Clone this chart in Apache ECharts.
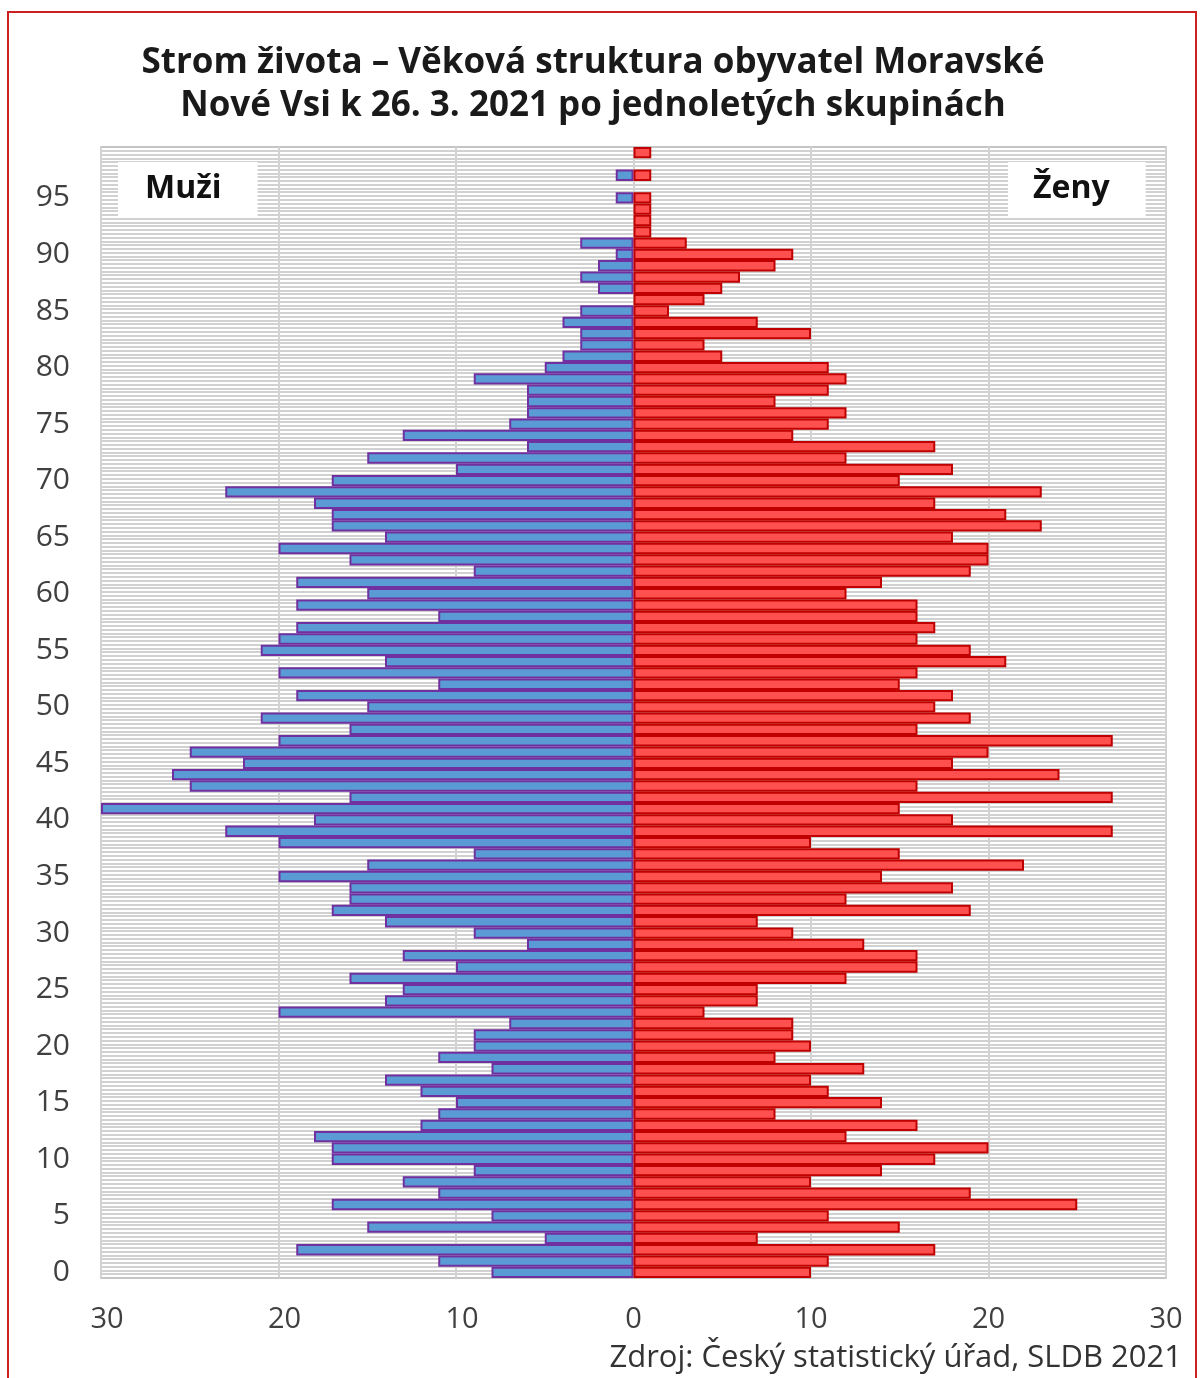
<!DOCTYPE html>
<html>
<head>
<meta charset="utf-8">
<title>Strom života</title>
<script src="https://cdn.jsdelivr.net/npm/echarts@6/dist/echarts.min.js"></script>
<style>
  html, body { margin: 0; padding: 0; background: #fff; }
  #main { width: 1204px; height: 1378px; }
</style>
</head>
<body>
<div id="main"></div>
<script>
// vek 0..99 (po jednoletych skupinach)
const ages = Array.from({ length: 100 }, (_, i) => String(i));

// pocty muzu podle veku 0..99
const muzi = [
  8, 11, 19, 5, 15, 8, 17, 11, 13, 9,
  17, 17, 18, 12, 11, 10, 12, 14, 8, 11,
  9, 9, 7, 20, 14, 13, 16, 10, 13, 6,
  9, 14, 17, 16, 16, 20, 15, 9, 20, 23,
  18, 30, 16, 25, 26, 22, 25, 20, 16, 21,
  15, 19, 11, 20, 14, 21, 20, 19, 11, 19,
  15, 19, 9, 16, 20, 14, 17, 17, 18, 23,
  17, 10, 15, 6, 13, 7, 6, 6, 6, 9,
  5, 4, 3, 3, 4, 3, 0, 2, 3, 2,
  1, 3, 0, 0, 0, 1, 0, 1, 0, 0
];

// pocty zen podle veku 0..99
const zeny = [
  10, 11, 17, 7, 15, 11, 25, 19, 10, 14,
  17, 20, 12, 16, 8, 14, 11, 10, 13, 8,
  10, 9, 9, 4, 7, 7, 12, 16, 16, 13,
  9, 7, 19, 12, 18, 14, 22, 15, 10, 27,
  18, 15, 27, 16, 24, 18, 20, 27, 16, 19,
  17, 18, 15, 16, 21, 19, 16, 17, 16, 16,
  12, 14, 19, 20, 20, 18, 23, 21, 17, 23,
  15, 18, 12, 17, 9, 11, 12, 8, 11, 12,
  11, 5, 4, 10, 7, 2, 4, 5, 6, 8,
  9, 3, 1, 1, 1, 1, 0, 1, 0, 1
];

// osa x: -30 .. 30 po 10
const xMin = -30, xMax = 30, xStep = 10;

const textFont = 'Open Sans';

const chart = echarts.init(document.getElementById('main'));

const option = {
  backgroundColor: '#fff',
  animation: false,
  title: [
    {
      text: 'Muži',
      left: 118, top: 162,
      backgroundColor: '#fff',
      padding: [9, 36, 9, 27],
      textStyle: { fontFamily: textFont, fontSize: 32, fontWeight: 'bold', color: '#111', lineHeight: 36 }
    },
    {
      text: 'Ženy',
      left: 1008, top: 162,
      backgroundColor: '#fff',
      padding: [9, 36, 9, 25],
      textStyle: { fontFamily: textFont, fontSize: 32, fontWeight: 'bold', color: '#111', lineHeight: 36 }
    },
    {
      text: 'Zdroj: Český statistický úřad, SLDB 2021',
      right: 22, top: 1341,
      padding: 0,
      textStyle: { fontFamily: textFont, fontSize: 31, fontWeight: 'normal', color: '#333', lineHeight: 34 }
    }
  ],
  graphic: [
    {
      type: 'rect',
      shape: { x: 8, y: 12, width: 1188, height: 1400 },
      style: { fill: 'none', stroke: '#cc1f1f', lineWidth: 2 },
      silent: true
    },
    {
      type: 'text',
      x: 593, y: 42,
      style: {
        text: 'Strom života – Věková struktura obyvatel Moravské\nNové Vsi k 26. 3. 2021 po jednoletých skupinách',
        textAlign: 'center',
        fontFamily: textFont, fontSize: 35, fontWeight: 'bold',
        lineHeight: 43,
        fill: '#1a1a1a'
      },
      silent: true
    }
  ],
  grid: {
    left: 101, right: 38, top: 147, bottom: 100,
    show: true,
    backgroundColor: '#fff',
    borderColor: '#d0d0d0',
    borderWidth: 2
  },
  xAxis: {
    type: 'value',
    min: xMin, max: xMax, interval: xStep,
    axisLine: { show: false },
    axisTick: { show: false },
    splitLine: { show: true, lineStyle: { color: '#d2d2d2', width: 2 } },
    axisLabel: {
      margin: 27,
      fontFamily: textFont, fontSize: 29, color: '#404040',
      formatter: v => (v < 0 ? '{n|' + Math.abs(v) + '}' : String(v)),
      rich: {
        n: { fontFamily: textFont, fontSize: 29, color: '#404040', padding: [0, 0, 0, 12] }
      }
    }
  },
  yAxis: [
    {
      type: 'category',
      data: ages,
      position: 'left',
      axisLine: { show: false, onZero: false },
      axisTick: { show: false },
      splitLine: { show: false },
      axisLabel: { interval: 4, margin: 31, fontFamily: textFont, fontSize: 30, color: '#404040' }
    },
    {
      // vodorovne srafovani pozadi
      type: 'value',
      min: 0, max: 300, interval: 1,
      position: 'right',
      axisLine: { show: false },
      axisTick: { show: false },
      axisLabel: { show: false },
      splitLine: { show: true, lineStyle: { color: '#c2c2c2', width: 1.7 } }
    }
  ],
  series: [
    {
      name: 'Muži',
      type: 'bar',
      yAxisIndex: 0,
      data: muzi.map(v => (v ? -v : null)),
      barGap: '-100%',
      barCategoryGap: '0%',
      itemStyle: { color: '#5b9bd5', borderColor: '#7030a0', borderWidth: 2 }
    },
    {
      name: 'Ženy',
      type: 'bar',
      yAxisIndex: 0,
      data: zeny.map(v => (v ? v : null)),
      barGap: '-100%',
      barCategoryGap: '0%',
      itemStyle: { color: '#ff5050', borderColor: '#c00000', borderWidth: 2 }
    }
  ]
};

chart.setOption(option);
</script>
</body>
</html>
